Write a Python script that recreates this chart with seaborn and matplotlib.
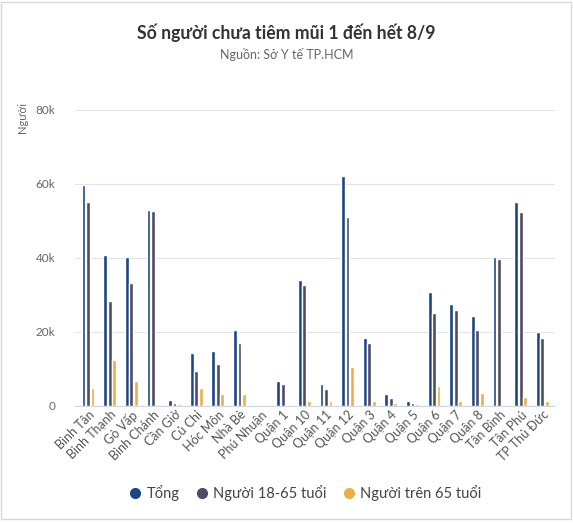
import matplotlib
matplotlib.use("Agg")
import matplotlib.pyplot as plt
import seaborn as sns
import pandas as pd
from matplotlib.patches import Rectangle
from matplotlib.lines import Line2D
from matplotlib.ticker import FuncFormatter

# ----------------- Data -----------------
districts = ["Bình Tân", "Bình Thạnh", "Gò Vấp", "Bình Chánh", "Cần Giờ", "Củ Chi",
             "Hóc Môn", "Nhà Bè", "Phú Nhuận", "Quận 1", "Quận 10", "Quận 11",
             "Quận 12", "Quận 3", "Quận 4", "Quận 5", "Quận 6", "Quận 7", "Quận 8",
             "Tân Bình", "Tân Phú", "TP Thủ Đức"]
tong = [59700, 40800, 40300, 53000, 1700, 14400, 14700, 20600, 0, 6600, 34100, 5900,
        62000, 18400, 3200, 1400, 30800, 27600, 24300, 40300, 55100, 20000]
tuoi_18_65 = [55000, 28400, 33300, 52700, 800, 9500, 11400, 17100, 0, 6000, 32700, 4600,
              51100, 17100, 2200, 800, 25100, 25900, 20500, 39700, 52400, 18400]
tren_65 = [4900, 12300, 6800, 0, 500, 4700, 3100, 3300, 0, 300, 1400, 1200,
           10500, 1200, 900, 500, 5400, 1400, 3500, 300, 2400, 1400]
series_names = ["Tổng", "Người 18-65 tuổi", "Người trên 65 tuổi"]
colors = ["#1c4587", "#4e4a67", "#e8b04a"]

df = pd.DataFrame({"district": districts, series_names[0]: tong,
                   series_names[1]: tuoi_18_65, series_names[2]: tren_65})
long_df = df.melt(id_vars="district", var_name="series", value_name="value")

# ----------------- Plot -----------------
sns.set_theme(style="white")
plt.rcParams["font.family"] = ["Lato", "DejaVu Sans"]

fig = plt.figure(figsize=(5.73, 5.23), dpi=100)
ax = fig.add_axes([0.131, 0.224, 0.838, 0.566])

sns.barplot(data=long_df, x="district", y="value", hue="series", order=districts,
            hue_order=series_names, palette=colors, width=0.62, gap=0.15,
            saturation=1, legend=False, ax=ax)

ax.set_ylim(0, 80000)
ax.set_yticks([0, 20000, 40000, 60000, 80000])
ax.yaxis.set_major_formatter(FuncFormatter(lambda v, p: "0" if v == 0 else f"{int(v/1000)}k"))
ax.set_xlim(-0.6, len(districts) - 0.4)
ax.grid(axis="y", color="#e3e3e3", linewidth=0.8)
ax.set_axisbelow(True)
for s in ["top", "right", "left"]:
    ax.spines[s].set_visible(False)
ax.spines["bottom"].set_color("#cfd6e4")
ax.spines["bottom"].set_linewidth(0.8)

ax.tick_params(axis="y", length=0, labelsize=8.5, labelcolor="#666666", pad=14)
ax.tick_params(axis="x", length=0, labelsize=9, labelcolor="#555555", pad=2)
plt.setp(ax.get_xticklabels(), rotation=45, ha="right", rotation_mode="anchor")
ax.set_xlabel("")
ax.set_ylabel("")

fig.text(0.040, 0.775, "Người", rotation=90, ha="center", va="center",
         fontsize=8, color="#666666")

fig.text(0.5, 0.938, "Số người chưa tiêm mũi 1 đến hết 8/9", ha="center", va="center",
         fontsize=12.7, fontweight="bold", color="#333333")
fig.text(0.5, 0.895, "Nguồn: Sở Y tế TP.HCM", ha="center", va="center",
         fontsize=9, color="#666666")

handles = [Line2D([], [], marker="o", linestyle="", markersize=7, color=c) for c in colors]
fig.legend(handles, series_names, loc="center", bbox_to_anchor=(0.533, 0.057), ncol=3,
           frameon=False, fontsize=10.5, handlelength=0.8, handletextpad=0.4,
           columnspacing=1.1, labelcolor="#444444")

# light frame around the chart
fig.patches.append(Rectangle((0.002, 0.008), 0.994, 0.988, transform=fig.transFigure,
                             fill=False, edgecolor="#d9d9d9", linewidth=1))

fig.savefig("out.png", dpi=100)
